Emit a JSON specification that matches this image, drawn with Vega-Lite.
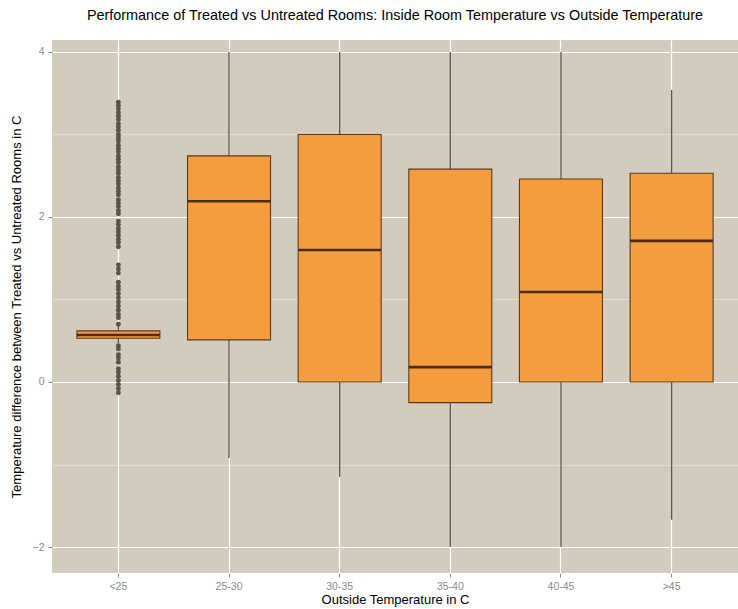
{
  "$schema": "https://vega.github.io/schema/vega-lite/v6.json",
  "autosize": "none",
  "width": 686,
  "height": 533,
  "padding": {"left": 52, "top": 40, "right": 0, "bottom": 36},
  "background": "white",
  "title": {
    "text": "Performance of Treated vs Untreated Rooms: Inside Room Temperature vs Outside Temperature",
    "fontSize": 14.4,
    "fontWeight": "normal",
    "font": "Liberation Sans",
    "color": "black",
    "anchor": "middle",
    "offset": 17
  },
  "datasets": {
    "boxes": [
      {"cat": "<25", "lower": 0.47, "q1": 0.53, "median": 0.57, "q3": 0.62, "upper": 0.68},
      {"cat": "25-30", "lower": -0.92, "q1": 0.51, "median": 2.19, "q3": 2.74, "upper": 4.0},
      {"cat": "30-35", "lower": -1.15, "q1": 0.0, "median": 1.6, "q3": 3.0, "upper": 4.0},
      {"cat": "35-40", "lower": -2.0, "q1": -0.25, "median": 0.18, "q3": 2.58, "upper": 4.0},
      {"cat": "40-45", "lower": -2.0, "q1": 0.0, "median": 1.09, "q3": 2.46, "upper": 4.0},
      {"cat": ">45", "lower": -1.67, "q1": 0.0, "median": 1.71, "q3": 2.53, "upper": 3.54}
    ],
    "outliers": [
      {"cat": "<25", "value": 3.39}, {"cat": "<25", "value": 3.35}, {"cat": "<25", "value": 3.31},
      {"cat": "<25", "value": 3.26}, {"cat": "<25", "value": 3.22}, {"cat": "<25", "value": 3.18},
      {"cat": "<25", "value": 3.13}, {"cat": "<25", "value": 3.09}, {"cat": "<25", "value": 3.05},
      {"cat": "<25", "value": 3.0}, {"cat": "<25", "value": 2.96}, {"cat": "<25", "value": 2.92},
      {"cat": "<25", "value": 2.87}, {"cat": "<25", "value": 2.83}, {"cat": "<25", "value": 2.79},
      {"cat": "<25", "value": 2.74}, {"cat": "<25", "value": 2.7}, {"cat": "<25", "value": 2.66},
      {"cat": "<25", "value": 2.61}, {"cat": "<25", "value": 2.57}, {"cat": "<25", "value": 2.53},
      {"cat": "<25", "value": 2.48}, {"cat": "<25", "value": 2.44}, {"cat": "<25", "value": 2.4},
      {"cat": "<25", "value": 2.35}, {"cat": "<25", "value": 2.31}, {"cat": "<25", "value": 2.27},
      {"cat": "<25", "value": 2.21}, {"cat": "<25", "value": 2.17}, {"cat": "<25", "value": 2.13},
      {"cat": "<25", "value": 2.08}, {"cat": "<25", "value": 2.04}, {"cat": "<25", "value": 1.95},
      {"cat": "<25", "value": 1.91}, {"cat": "<25", "value": 1.86}, {"cat": "<25", "value": 1.82},
      {"cat": "<25", "value": 1.78}, {"cat": "<25", "value": 1.73}, {"cat": "<25", "value": 1.69},
      {"cat": "<25", "value": 1.64}, {"cat": "<25", "value": 1.42}, {"cat": "<25", "value": 1.37},
      {"cat": "<25", "value": 1.32}, {"cat": "<25", "value": 1.21}, {"cat": "<25", "value": 1.16},
      {"cat": "<25", "value": 1.12}, {"cat": "<25", "value": 1.07}, {"cat": "<25", "value": 1.02},
      {"cat": "<25", "value": 0.97}, {"cat": "<25", "value": 0.92}, {"cat": "<25", "value": 0.87},
      {"cat": "<25", "value": 0.82}, {"cat": "<25", "value": 0.78}, {"cat": "<25", "value": 0.7},
      {"cat": "<25", "value": 0.44}, {"cat": "<25", "value": 0.4}, {"cat": "<25", "value": 0.33},
      {"cat": "<25", "value": 0.29}, {"cat": "<25", "value": 0.24}, {"cat": "<25", "value": 0.16},
      {"cat": "<25", "value": 0.12}, {"cat": "<25", "value": 0.07}, {"cat": "<25", "value": 0.02},
      {"cat": "<25", "value": -0.03}, {"cat": "<25", "value": -0.08}, {"cat": "<25", "value": -0.13}
    ]
  },
  "encoding": {
    "x": {
      "field": "cat",
      "type": "nominal",
      "sort": ["<25", "25-30", "30-35", "35-40", "40-45", ">45"],
      "scale": {
        "type": "band",
        "domain": ["<25", "25-30", "30-35", "35-40", "40-45", ">45"],
        "paddingInner": 0,
        "paddingOuter": 0.1
      },
      "axis": {
        "title": "Outside Temperature in C",
        "labelAngle": 0,
        "grid": true,
        "bandPosition": 0.5,
        "gridWidth": 1.2,
        "titlePadding": 2
      }
    }
  },
  "layer": [
    {
      "data": {"name": "boxes"},
      "mark": {"type": "rule", "color": "#5b534c", "strokeWidth": 1.3},
      "encoding": {
        "y": {
          "field": "lower",
          "type": "quantitative",
          "scale": {"domain": [-2.315, 4.145], "nice": false, "zero": false},
          "axis": {
            "title": "Temperature difference between Treated vs Untreated Rooms in C",
            "values": [-2, -1, 0, 1, 2, 3, 4],
            "format": "d",
            "labelExpr": "datum.value % 2 === 0 ? datum.label : ''",
            "tickOpacity": {"condition": {"test": "datum.value % 2 === 0", "value": 1}, "value": 0},
            "gridWidth": {"condition": {"test": "datum.value % 2 === 0", "value": 1.2}, "value": 0.5},
            "gridOpacity": {"condition": {"test": "datum.value % 2 === 0", "value": 1}, "value": 0.75},
            "titlePadding": 9
          }
        },
        "y2": {"field": "upper"}
      }
    },
    {
      "data": {"name": "boxes"},
      "mark": {
        "type": "bar",
        "fill": "#F59D3E",
        "stroke": "#5a3a1e",
        "strokeWidth": 1.1,
        "width": {"band": 0.75}
      },
      "encoding": {
        "y": {"field": "q1", "type": "quantitative", "title": "Temperature difference between Treated vs Untreated Rooms in C"},
        "y2": {"field": "q3"}
      }
    },
    {
      "data": {"name": "boxes"},
      "mark": {"type": "tick", "color": "#4a2c10", "thickness": 2.6, "size": 83, "opacity": 1},
      "encoding": {
        "y": {"field": "median", "type": "quantitative", "title": "Temperature difference between Treated vs Untreated Rooms in C"}
      }
    },
    {
      "data": {"name": "outliers"},
      "mark": {"type": "point", "filled": true, "color": "#5a524a", "size": 24, "opacity": 1},
      "encoding": {
        "y": {"field": "value", "type": "quantitative", "title": "Temperature difference between Treated vs Untreated Rooms in C"}
      }
    }
  ],
  "config": {
    "view": {"fill": "#D3CBBD", "stroke": null},
    "font": "Liberation Sans",
    "axis": {
      "domain": false,
      "gridColor": "#ffffff",
      "tickColor": "#8a8a8a",
      "tickSize": 4,
      "labelColor": "#8a8a8a",
      "labelFontSize": 10.5,
      "labelFont": "Liberation Sans",
      "titleFont": "Liberation Sans",
      "titleFontSize": 13,
      "titleFontWeight": "normal",
      "titleColor": "#000000",
      "labelPadding": 4
    }
  }
}
